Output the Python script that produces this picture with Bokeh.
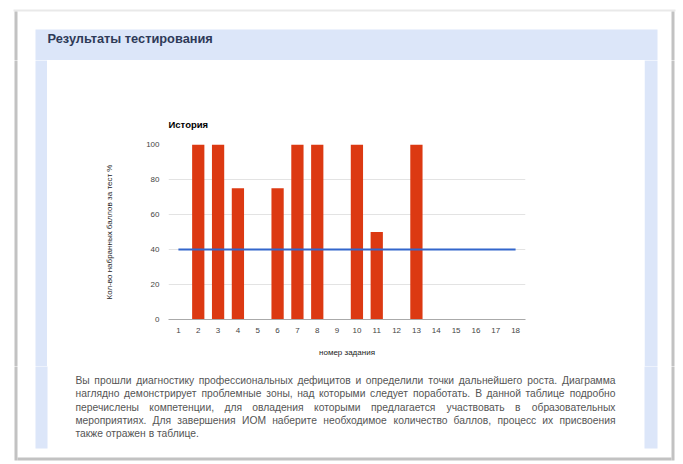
from bokeh.plotting import figure
from bokeh.models import Range1d, FactorRange, FixedTicker
from bokeh.layouts import column, row
from bokeh.embed import file_html
from bokeh.resources import INLINE
from bokeh.core.properties import value

# ---- data ----
tasks = ["1", "2", "3", "4", "5", "6", "7", "8", "9", "10",
         "11", "12", "13", "14", "15", "16", "17", "18"]
scores = [0, 100, 100, 75, 0, 75, 100, 100, 0, 100, 50, 0, 100, 0, 0, 0, 0, 0]
threshold = [40, 40, 40, 40, 40, 40, 40, 40, 40, 40, 40, 40, 40, 40, 40, 40, 40, 40]
y_ticks = [0, 20, 40, 60, 80, 100]

header_text = "Результаты тестирования"
chart_title = "История"
y_title = "Кол-во набранных баллов за тест %"
x_title = "номер задания"
paragraph = [
    "Вы прошли диагностику профессиональных дефицитов и определили точки дальнейшего роста. Диаграмма",
    "наглядно демонстрирует проблемные зоны, над которыми следует поработать. В данной таблице подробно",
    "перечислены компетенции, для овладения которыми предлагается участвовать в образовательных",
    "мероприятиях. Для завершения ИОМ наберите необходимое количество баллов, процесс их присвоения",
    "также отражен в таблице.",
]

FONT = "Liberation Sans"
BAR = "#dc3912"
LINE = "#3366cc"
PANEL = "#dce6f9"
SHADOW = "#c2c2c2"

# approximate advance widths (em) of Liberation Sans, used only to justify the paragraph
ADV = {
    "а": .556, "б": .573, "в": .531, "г": .365, "д": .583, "е": .556, "ж": .669, "з": .458,
    "и": .559, "й": .559, "к": .438, "л": .583, "м": .688, "н": .552, "о": .556, "п": .542,
    "р": .556, "с": .5, "т": .458, "у": .5, "ф": .823, "х": .5, "ц": .56, "ч": .5, "ш": .823,
    "щ": .833, "ъ": .625, "ы": .719, "ь": .521, "э": .51, "ю": .75, "я": .542,
    "В": .667, "Д": .688, "И": .722, "О": .778, "М": .833, ".": .278, ",": .278,
}

# page decoration rectangles (left, right, top, bottom, colour) in page pixels; none overlap
DECOR = [
    (13, 675, 9, 11, "#e9e9e9"),     # card top edge
    (14, 17, 11, 460, SHADOW),       # card left edge
    (671, 674, 11, 460, SHADOW),     # card right edge
    (17, 671, 457, 460, SHADOW),     # card bottom edge
    (35, 657, 29, 60, PANEL),        # panel header band
    (35, 47, 60, 448, PANEL),        # panel left side
    (644, 657, 60, 448, PANEL),      # panel right side
]

WHITE_CSS = {"background-color": "white"}


def page_piece(x0, y0, w, h):
    """A figure that shows the page region [x0, x0+w] x [y0, y0+h] in page pixels."""
    f = figure(width=w, height=h, x_range=Range1d(x0, x0 + w), y_range=Range1d(y0 + h, y0),
               output_backend="svg", toolbar_location=None, min_border=0,
               x_axis_location=None, y_axis_location=None, styles=WHITE_CSS)
    f.grid.visible = False
    f.outline_line_color = None
    f.background_fill_color = "white"
    f.border_fill_color = "white"
    f.quad(left=[d[0] for d in DECOR], right=[d[1] for d in DECOR],
           top=[d[2] for d in DECOR], bottom=[d[3] for d in DECOR],
           fill_color=[d[4] for d in DECOR], line_color=None)
    return f


# ---- top piece with header ----
top = page_piece(0, 0, 683, 60)
top.text(x=[47], y=[38], text=[header_text], text_font=value(FONT), text_font_size=value("12.8px"),
         text_font_style="bold", text_color="#2e3a58", text_baseline="middle", text_align="left")

left = page_piece(0, 60, 47, 306)
right = page_piece(644, 60, 39, 306)

# ---- chart ----
p = figure(width=597, height=306, x_range=FactorRange(factors=tasks), y_range=Range1d(0, 100),
           output_backend="svg", toolbar_location=None, styles=WHITE_CSS,
           min_border_left=121, min_border_right=119, min_border_top=84, min_border_bottom=47)
p.background_fill_color = "white"
p.border_fill_color = "white"
p.outline_line_color = None

p.title.text = chart_title
p.title.text_font = FONT
p.title.text_font_size = "9.5px"
p.title.text_font_style = "bold"
p.title.text_color = "#000000"
p.title.align = "left"
p.title.standoff = 30

p.vbar(x=tasks, top=scores, width=0.618, fill_color=BAR, line_color=None)
p.line(x=tasks, y=threshold, line_color=LINE, line_width=2)

p.xgrid.visible = False
p.ygrid.ticker = FixedTicker(ticks=y_ticks)
p.ygrid.grid_line_color = "#e3e3e3"

xa = p.xaxis[0]
xa.axis_line_color = "#aaaaaa"
xa.major_tick_line_color = None
xa.minor_tick_line_color = None
xa.major_label_text_font = FONT
xa.major_label_text_font_size = "8px"
xa.major_label_text_color = "#444444"
xa.major_label_standoff = 2
xa.axis_label = x_title
xa.axis_label_text_font = FONT
xa.axis_label_text_font_size = "8px"
xa.axis_label_text_font_style = "normal"
xa.axis_label_text_color = "#222222"
xa.axis_label_standoff = 12

ya = p.yaxis[0]
ya.ticker = FixedTicker(ticks=y_ticks)
ya.axis_line_color = None
ya.major_tick_line_color = None
ya.minor_tick_line_color = None
ya.major_label_text_font = FONT
ya.major_label_text_font_size = "8px"
ya.major_label_text_color = "#444444"
ya.major_label_standoff = 3
ya.axis_label = y_title
ya.axis_label_text_font = FONT
ya.axis_label_text_font_size = "8px"
ya.axis_label_text_font_style = "normal"
ya.axis_label_text_color = "#222222"
ya.axis_label_standoff = 29

# ---- bottom piece with the (justified) paragraph ----
bottom = page_piece(0, 366, 683, 98)
FS = 10.3
X0, X1 = 75, 615
wx, wy, wt, wa = [], [], [], []
for i, line in enumerate(paragraph):
    y = 380 + 13.3 * i
    words = line.split(" ")
    if i == len(paragraph) - 1:
        wx.append(X0); wy.append(y); wt.append(line); wa.append("left")
        continue
    widths = [sum(ADV.get(c, .55) for c in w) * FS for w in words]
    gap = (X1 - X0 - sum(widths)) / (len(words) - 1)
    x = X0
    for j, (w, ww) in enumerate(zip(words, widths)):
        if j == len(words) - 1:
            wx.append(X1); wa.append("right")
        else:
            wx.append(x); wa.append("left")
        wy.append(y); wt.append(w)
        x += ww + gap
bottom.text(x=wx, y=wy, text=wt, text_align=wa,
            text_font=value(FONT), text_font_size=value(f"{FS}px"), text_color="#555555",
            text_baseline="middle")

layout = column(top, row(left, column(p, styles=WHITE_CSS), right, styles=WHITE_CSS),
                bottom, styles=WHITE_CSS)

open("out.html", "w").write(file_html(layout, INLINE))
